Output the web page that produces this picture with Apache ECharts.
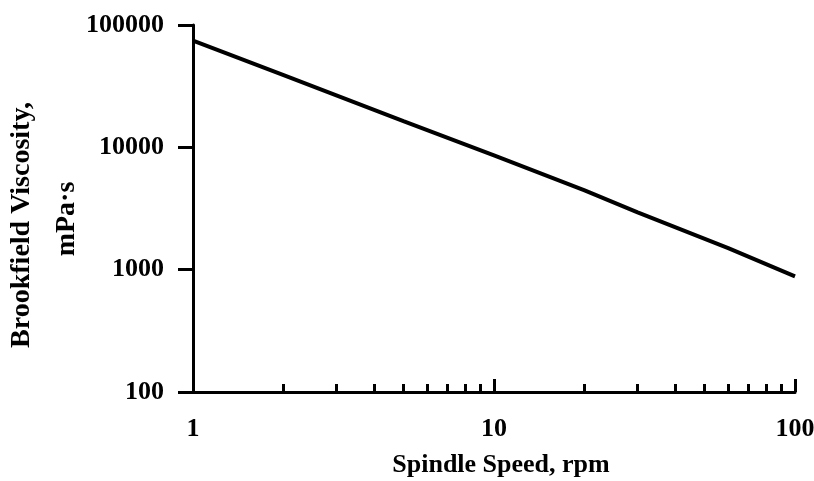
<!DOCTYPE html>
<html>
<head>
<meta charset="utf-8">
<script src="https://cdn.jsdelivr.net/npm/echarts@6/dist/echarts.min.js"></script>
<style>
  html, body { margin: 0; padding: 0; background: #fff; }
  #chart { width: 814px; height: 481px; }
</style>
</head>
<body>
<div id="chart"></div>
<script>
// spindle speed (rpm) and Brookfield viscosity (mPa·s)
let speed = [1, 2, 5, 10, 20, 30, 60, 100]
let viscosity = [74500, 39000, 16400, 8600, 4450, 2940, 1500, 880]

let xMajor = [1, 10, 100]
let xMinor = [2, 3, 4, 5, 6, 7, 8, 9, 20, 30, 40, 50, 60, 70, 80, 90]
let yMajor = [100, 1000, 10000, 100000]

let serif = '"Liberation Serif", "DejaVu Serif", serif'

let points = speed.map((s, i) => [s, viscosity[i]])

let option = {
    backgroundColor: '#fff',
    animation: false,
    grid: {
        left: 193,
        right: 19,
        top: 25,
        bottom: 89,
        outerBoundsMode: 'none'
    },
    xAxis: [{
        type: 'log',
        min: 1,
        max: 100,
        logBase: 10,
        position: 'bottom',
        name: 'Spindle Speed, rpm',
        nameLocation: 'middle',
        nameGap: 60,
        nameTextStyle: {
            color: '#000',
            fontFamily: serif,
            fontWeight: 'bold',
            fontSize: 26,
            padding: [0, 0, 0, 14]
        },
        axisLine: { lineStyle: { color: '#000', width: 3 } },
        axisTick: {
            inside: true,
            length: 13,
            customValues: xMajor,
            lineStyle: { color: '#000', width: 3 }
        },
        axisLabel: {
            customValues: xMajor,
            margin: 24,
            color: '#000',
            fontFamily: serif,
            fontWeight: 'bold',
            fontSize: 26,
            formatter: v => String(v)
        },
        splitLine: { show: false }
    }, {
        // minor ticks at 2..9 of each decade
        type: 'log',
        min: 1,
        max: 100,
        logBase: 10,
        position: 'bottom',
        axisLine: { show: false },
        axisTick: {
            inside: true,
            length: 8,
            customValues: xMinor,
            lineStyle: { color: '#000', width: 3 }
        },
        axisLabel: { show: false },
        splitLine: { show: false }
    }],
    yAxis: {
        type: 'log',
        min: 100,
        max: 100000,
        logBase: 10,
        axisLine: { lineStyle: { color: '#000', width: 3 } },
        axisTick: {
            length: 15,
            customValues: yMajor,
            lineStyle: { color: '#000', width: 3 }
        },
        axisLabel: {
            customValues: yMajor,
            margin: 29,
            color: '#000',
            fontFamily: serif,
            fontWeight: 'bold',
            fontSize: 26,
            formatter: v => String(v)
        },
        splitLine: { show: false }
    },
    graphic: [{
        type: 'text',
        x: 22,
        y: 225,
        rotation: Math.PI / 2,
        style: {
            text: 'Brookfield Viscosity,',
            fill: '#000',
            font: 'bold 28px ' + serif,
            textAlign: 'center',
            textVerticalAlign: 'middle'
        }
    }, {
        type: 'text',
        x: 67,
        y: 219,
        rotation: Math.PI / 2,
        style: {
            text: 'mPa·s',
            fill: '#000',
            font: 'bold 28px ' + serif,
            textAlign: 'center',
            textVerticalAlign: 'middle'
        }
    }],
    series: [{
        type: 'line',
        data: points,
        showSymbol: false,
        symbol: 'none',
        lineStyle: { color: '#000', width: 4 }
    }]
};

let chart = echarts.init(document.getElementById('chart'));
chart.setOption(option);
</script>
</body>
</html>
